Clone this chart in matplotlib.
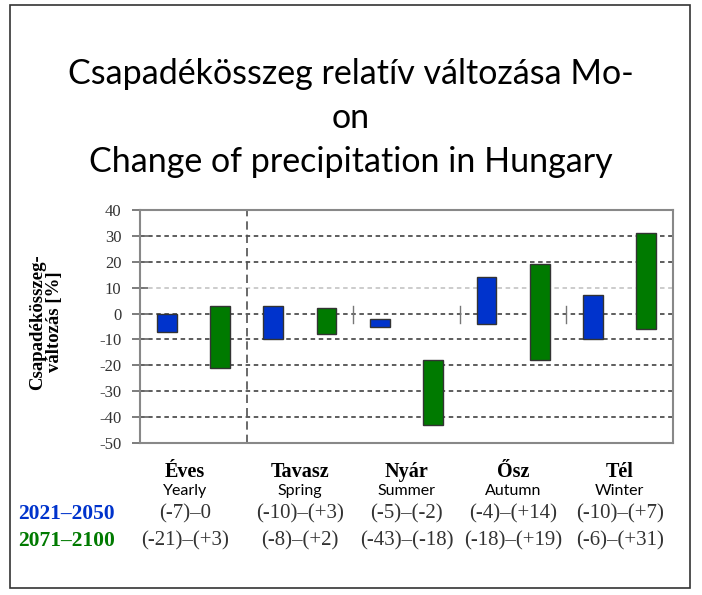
import matplotlib.pyplot as plt
import matplotlib.transforms as transforms
from matplotlib.patches import Rectangle

# 数据
seasons_hu = ['Éves', 'Tavasz', 'Nyár', 'Ősz', 'Tél']
seasons_en = ['Yearly', 'Spring', 'Summer', 'Autumn', 'Winter']
periods = ['2021–2050', '2071–2100']
low_2021 = [-7, -10, -5, -4, -10]
high_2021 = [0, 3, -2, 14, 7]
low_2071 = [-21, -8, -43, -18, -6]
high_2071 = [3, 2, -18, 19, 31]
yticks = [40, 30, 20, 10, 0, -10, -20, -30, -40, -50]

blue = '#0033cc'
green = '#007a00'
serif = 'Liberation Serif'


def fmt(v):
    return '0' if v == 0 else '(%+d)' % v if v > 0 else '(%d)' % v


fig = plt.figure(figsize=(7.02, 5.95), dpi=100)
ax = fig.add_axes([140 / 702, 1 - 443 / 595, 533 / 702, 233 / 595])

# 外框
fig.patches.append(Rectangle((10 / 702, 1 - 588 / 595), 680 / 702, 583 / 595,
                             transform=fig.transFigure, fill=False,
                             edgecolor='#333333', linewidth=1.2))

w = 0.37
for i in range(5):
    ax.bar(2 * i + 0.5, high_2021[i] - low_2021[i], bottom=low_2021[i], width=w,
           color=blue, edgecolor='#333333', linewidth=1.0, zorder=3)
    ax.bar(2 * i + 1.5, high_2071[i] - low_2071[i], bottom=low_2071[i], width=w,
           color=green, edgecolor='#333333', linewidth=1.0, zorder=3)

# 网格线
for y in yticks[1:-1]:
    c = '#c8c8c8' if y == 10 else '#505050'
    ax.axhline(y, color=c, linestyle=(0, (2.5, 2)), linewidth=1.3, zorder=1)
ax.axvline(2, color='#505050', linestyle=(0, (5, 3)), linewidth=1.2, zorder=1)
for x in [4, 6, 8]:
    ax.plot([x, x], [-3.5, 3], color='#777777', linewidth=1.0, zorder=2)

ax.set_xlim(0, 10)
ax.set_ylim(-50, 40)
ax.set_xticks([])
ax.set_yticks(yticks)
ax.set_yticklabels([str(t) for t in yticks], fontfamily=serif, fontsize=12,
                   color='#333333')
ax.tick_params(axis='y', direction='inout', length=11, width=1.2, color='#666666', pad=8)
for s in ax.spines.values():
    s.set_color('#888888')
    s.set_linewidth(1.5)

fig.text(46 / 702, 1 - 322 / 595, 'Csapadékösszeg-\nváltozás [%]', rotation=90,
         ha='center', va='center', multialignment='center', fontfamily=serif,
         fontweight='bold', fontsize=13.5, linespacing=1.05)

# 标题
title_lines = ['Csapadékösszeg relatív változása Mo-', 'on',
               'Change of precipitation in Hungary']
for line, yb in zip(title_lines, [84, 128, 172]):
    fig.text(0.5, 1 - yb / 595, line, ha='center', va='baseline', fontsize=24.5,
             fontfamily='Lato')

# 表格文字
trans = transforms.blended_transform_factory(ax.transData, fig.transFigure)
for i in range(5):
    xc = 2 * i + 1 if i > 0 else 0.85
    fig.text(xc, 1 - 472 / 595, seasons_hu[i], transform=trans, ha='center',
             va='center', fontfamily=serif, fontweight='bold', fontsize=14.5)
    fig.text(xc, 1 - 491 / 595, seasons_en[i], transform=trans, ha='center',
             va='center', fontfamily='Lato', fontsize=11.5)
    fig.text(xc, 1 - 514 / 595, fmt(low_2021[i]) + '–' + fmt(high_2021[i]),
             transform=trans, ha='center', va='center', fontfamily=serif,
             fontsize=15, color='#333333')
    fig.text(xc, 1 - 541 / 595, fmt(low_2071[i]) + '–' + fmt(high_2071[i]),
             transform=trans, ha='center', va='center', fontfamily=serif,
             fontsize=15, color='#333333')

fig.text(18 / 702, 1 - 514 / 595, periods[0], ha='left', va='center',
         fontfamily=serif, fontweight='bold', fontsize=15.5, color=blue)
fig.text(18 / 702, 1 - 541 / 595, periods[1], ha='left', va='center',
         fontfamily=serif, fontweight='bold', fontsize=15.5, color=green)

fig.savefig('out.png', dpi=100)
